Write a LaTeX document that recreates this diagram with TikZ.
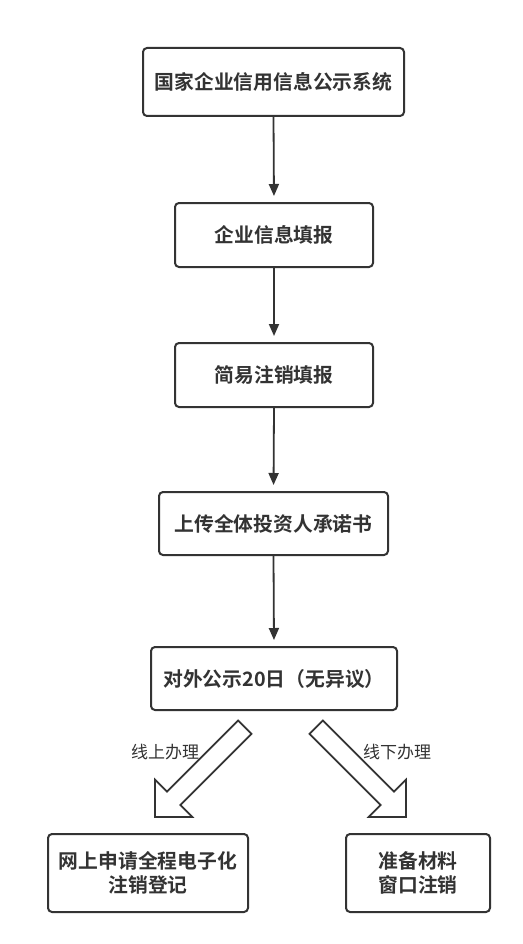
\documentclass[tikz,border=0pt]{standalone}
\usepackage{fontspec}
\setmainfont{Noto Sans CJK SC}
\newfontfamily\cjkb{Noto Sans CJK SC Bold}
\usetikzlibrary{arrows.meta}
\definecolor{ink}{HTML}{333333}
\tikzset{
  box/.style={draw=ink, line width=2pt, rounded corners=4pt, fill=white,
    text=ink, font=\cjkb\fontsize{19.8pt}{24pt}\selectfont, align=center, inner sep=0pt},
  conn/.style={draw=ink, line width=1.8pt, -{Triangle[length=12pt,width=10pt]}, shorten >=6pt},
  blockarrow/.style={draw=ink, line width=1.7pt, fill=white, line join=miter},
  lbl/.style={text=ink, font=\fontsize{17pt}{20pt}\selectfont, inner sep=0pt}
}
\begin{document}
\begin{tikzpicture}[x=1pt,y=-1pt]
\useasboundingbox (0,0) rectangle (522,944);
\fill[white] (0,0) rectangle (522,944);
\node[box, minimum width=261pt, minimum height=68pt] (b1) at (273.5,82) {国家企业信用信息公示系统};
\node[box, minimum width=198pt, minimum height=64pt] (b2) at (274,235) {企业信息填报};
\node[box, minimum width=198pt, minimum height=64pt] (b3) at (274,375) {简易注销填报};
\node[box, minimum width=229pt, minimum height=63pt] (b4) at (273.5,523.5) {上传全体投资人承诺书};
\node[box, minimum width=246pt, minimum height=63pt] (b5) at (274,678.5) {对外公示20日（无异议）};
\node[box, minimum width=200pt, minimum height=78pt] (b6) at (148,873) {网上申请全程电子化\\注销登记};
\node[box, minimum width=144pt, minimum height=78pt] (b7) at (418,873) {准备材料\\窗口注销};
\draw[conn] (b1.south) -- (b2.north);
\draw[conn] (b2.south) -- (b3.north);
\draw[conn] (b3.south) -- (b4.north);
\draw[conn] (b4.south) -- (b5.north);
\draw[blockarrow] (238.1,720.5) -- (251.5,733.9) -- (180.4,805.0) -- (192.4,817.0) -- (155,817) -- (155,779.6) -- (167.0,791.6) -- cycle;
\draw[blockarrow] (322.9,720.5) -- (309.5,733.9) -- (380.6,805.0) -- (368.6,817.0) -- (406,817) -- (406,779.6) -- (394.0,791.6) -- cycle;
\node[lbl] (l1) at (165,752) {线上办理};
\node[lbl] (l2) at (397,752) {线下办理};
\end{tikzpicture}
\end{document}
